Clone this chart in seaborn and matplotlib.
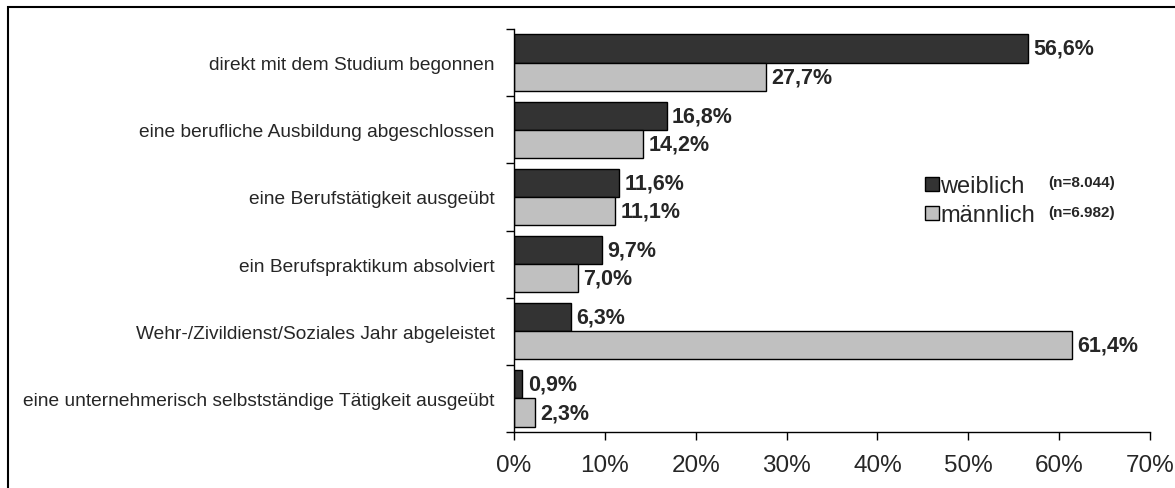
import numpy as np
import pandas as pd
import matplotlib.pyplot as plt
import seaborn as sns
from matplotlib.patches import Rectangle
from matplotlib.ticker import FuncFormatter

# data
categories = [
    "direkt mit dem Studium begonnen",
    "eine berufliche Ausbildung abgeschlossen",
    "eine Berufstätigkeit ausgeübt",
    "ein Berufspraktikum absolviert",
    "Wehr-/Zivildienst/Soziales Jahr abgeleistet",
    "eine unternehmerisch selbstständige Tätigkeit ausgeübt",
]
weiblich = [56.6, 16.8, 11.6, 9.7, 6.3, 0.9]
maennlich = [27.7, 14.2, 11.1, 7.0, 61.4, 2.3]
groups = ["weiblich", "männlich"]
group_n = ["(n=8.044)", "(n=6.982)"]
colors = ["#333333", "#c0c0c0"]

df = pd.DataFrame({
    "Kategorie": categories * 2,
    "Anteil": weiblich + maennlich,
    "Geschlecht": [groups[0]] * len(categories) + [groups[1]] * len(categories),
})

sns.set_style("white")
plt.rcParams["font.family"] = ["Liberation Sans", "DejaVu Sans"]

fig = plt.figure(figsize=(11.75, 4.89), dpi=100)
ax = fig.add_axes([514 / 1175, 1 - 433 / 489, 636 / 1175, 403 / 489])

sns.barplot(data=df, y="Kategorie", x="Anteil", hue="Geschlecht",
            order=categories, hue_order=groups, palette=colors,
            orient="h", width=0.84, edgecolor="black", linewidth=1,
            ax=ax, legend=False)

# value labels
for cont in ax.containers:
    for bar in cont:
        w = bar.get_width()
        ax.text(w + 0.6, bar.get_y() + bar.get_height() / 2,
                f"{w:.1f}%".replace(".", ","), va="center", ha="left",
                fontsize=15.5, fontweight="bold")

ax.set_xlim(0, 70)
ax.set_ylim(len(categories) - 0.5, -0.5)
ax.set_xticks(np.arange(0, 71, 10))
ax.xaxis.set_major_formatter(FuncFormatter(lambda v, p: f"{v:.0f}%"))
ax.tick_params(axis="x", labelsize=17.5, length=6, width=1, color="black",
               direction="out", pad=10, bottom=True)

# category boundaries as ticks, labels at group centers
ax.set_yticks(np.arange(-0.5, len(categories) + 0.5, 1))
ax.set_yticklabels([])
ax.set_yticks(np.arange(len(categories)), minor=True)
ax.set_yticklabels(categories, minor=True, fontsize=13.8)
ax.tick_params(axis="y", which="major", length=6, width=1, color="black",
               direction="out", left=True)
ax.tick_params(axis="y", which="minor", length=0, pad=14)

ax.set_xlabel("")
ax.set_ylabel("")
for s in ["top", "right"]:
    ax.spines[s].set_visible(False)
for s in ["left", "bottom"]:
    ax.spines[s].set_color("black")
    ax.spines[s].set_linewidth(1)

# legend
handles = [plt.Line2D([], [], marker="s", linestyle="", markersize=10,
                      markerfacecolor=c, markeredgecolor="black")
           for c in colors]
leg = ax.legend(handles, groups, loc="upper left",
                bbox_to_anchor=(913 / 1175, 1 - 164 / 489),
                bbox_transform=fig.transFigure, frameon=False,
                fontsize=17, handletextpad=0.05, handlelength=0.6,
                labelspacing=0.3, borderpad=0)
for i, n in enumerate(group_n):
    fig.text(1048 / 1175, 1 - (183 + i * 30) / 489, n, fontsize=11,
             fontweight="bold", va="center", ha="left")

# outer frame
fig.patches.append(Rectangle((8 / 1175, -0.1), 1.2, 1.1 - 8 / 489,
                             transform=fig.transFigure, fill=False,
                             edgecolor="black", linewidth=1.5))

fig.savefig("out.png", dpi=100)
